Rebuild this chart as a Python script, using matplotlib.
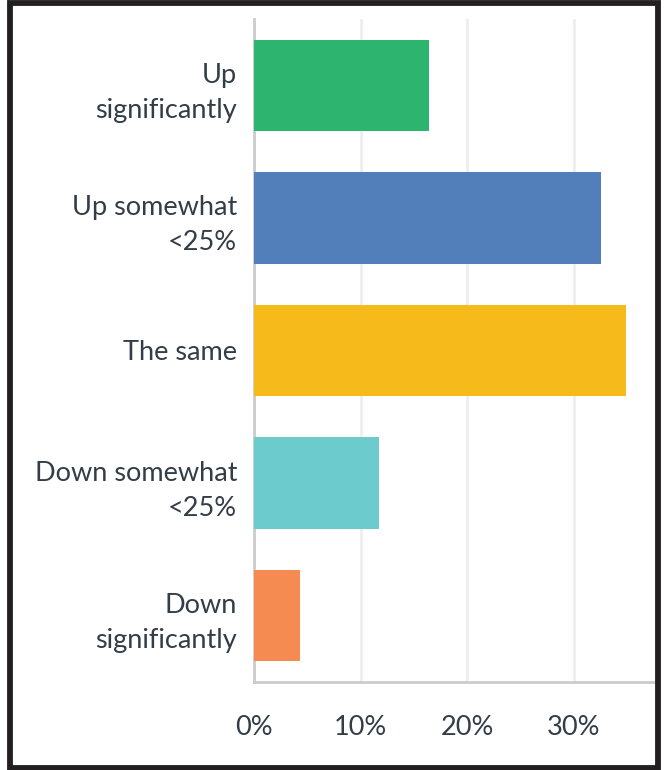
import matplotlib
matplotlib.use("Agg")
import matplotlib.pyplot as plt
from matplotlib.patches import Rectangle

# Data
categories = ["Up\nsignificantly", "Up somewhat\n<25%", "The same",
              "Down somewhat\n<25%", "Down\nsignificantly"]
values = [16.4, 32.5, 34.9, 11.7, 4.3]
colors = ["#2db56f", "#527fb9", "#f6bb1a", "#6ccbcc", "#f68b52"]
tick_values = [0, 10, 20, 30]
tick_labels = ["0%", "10%", "20%", "30%"]

TEXT = "#333d47"
plt.rcParams["font.family"] = ["Lato", "DejaVu Sans"]

fig = plt.figure(figsize=(6.66, 7.70), dpi=100)
W, H = 666, 770
ax = fig.add_axes([254 / W, 1 - 682 / H, (655 - 254) / W, (682 - 19) / H])

y = list(range(len(categories)))
ax.barh(y, values, height=0.69, color=colors, zorder=3)
ax.set_ylim(len(categories) - 0.5, -0.5)
ax.set_xlim(0, 37.6)

ax.set_xticks(tick_values)
ax.set_xticklabels(tick_labels, fontsize=19.5, color=TEXT)
ax.set_yticks(y)
ax.set_yticklabels(categories, fontsize=19.5, color=TEXT, linespacing=1.5)
ax.tick_params(axis="both", length=0)
ax.tick_params(axis="y", pad=12)
ax.tick_params(axis="x", pad=24)

ax.grid(axis="x", color="#eeeeee", linewidth=2, zorder=0)
for s in ["top", "right"]:
    ax.spines[s].set_visible(False)
ax.spines["left"].set_color("#cccccc")
ax.spines["left"].set_linewidth(2)
ax.spines["bottom"].set_color("#cccccc")
ax.spines["bottom"].set_linewidth(2)

# black frame around the figure
fig.patches.append(Rectangle((10.5 / W, 2.5 / H), (658 - 10.5) / W, (767 - 2.5) / H,
                             transform=fig.transFigure, fill=False,
                             edgecolor="#231f20", linewidth=4.2, zorder=10))

fig.savefig("out.png", dpi=100)
